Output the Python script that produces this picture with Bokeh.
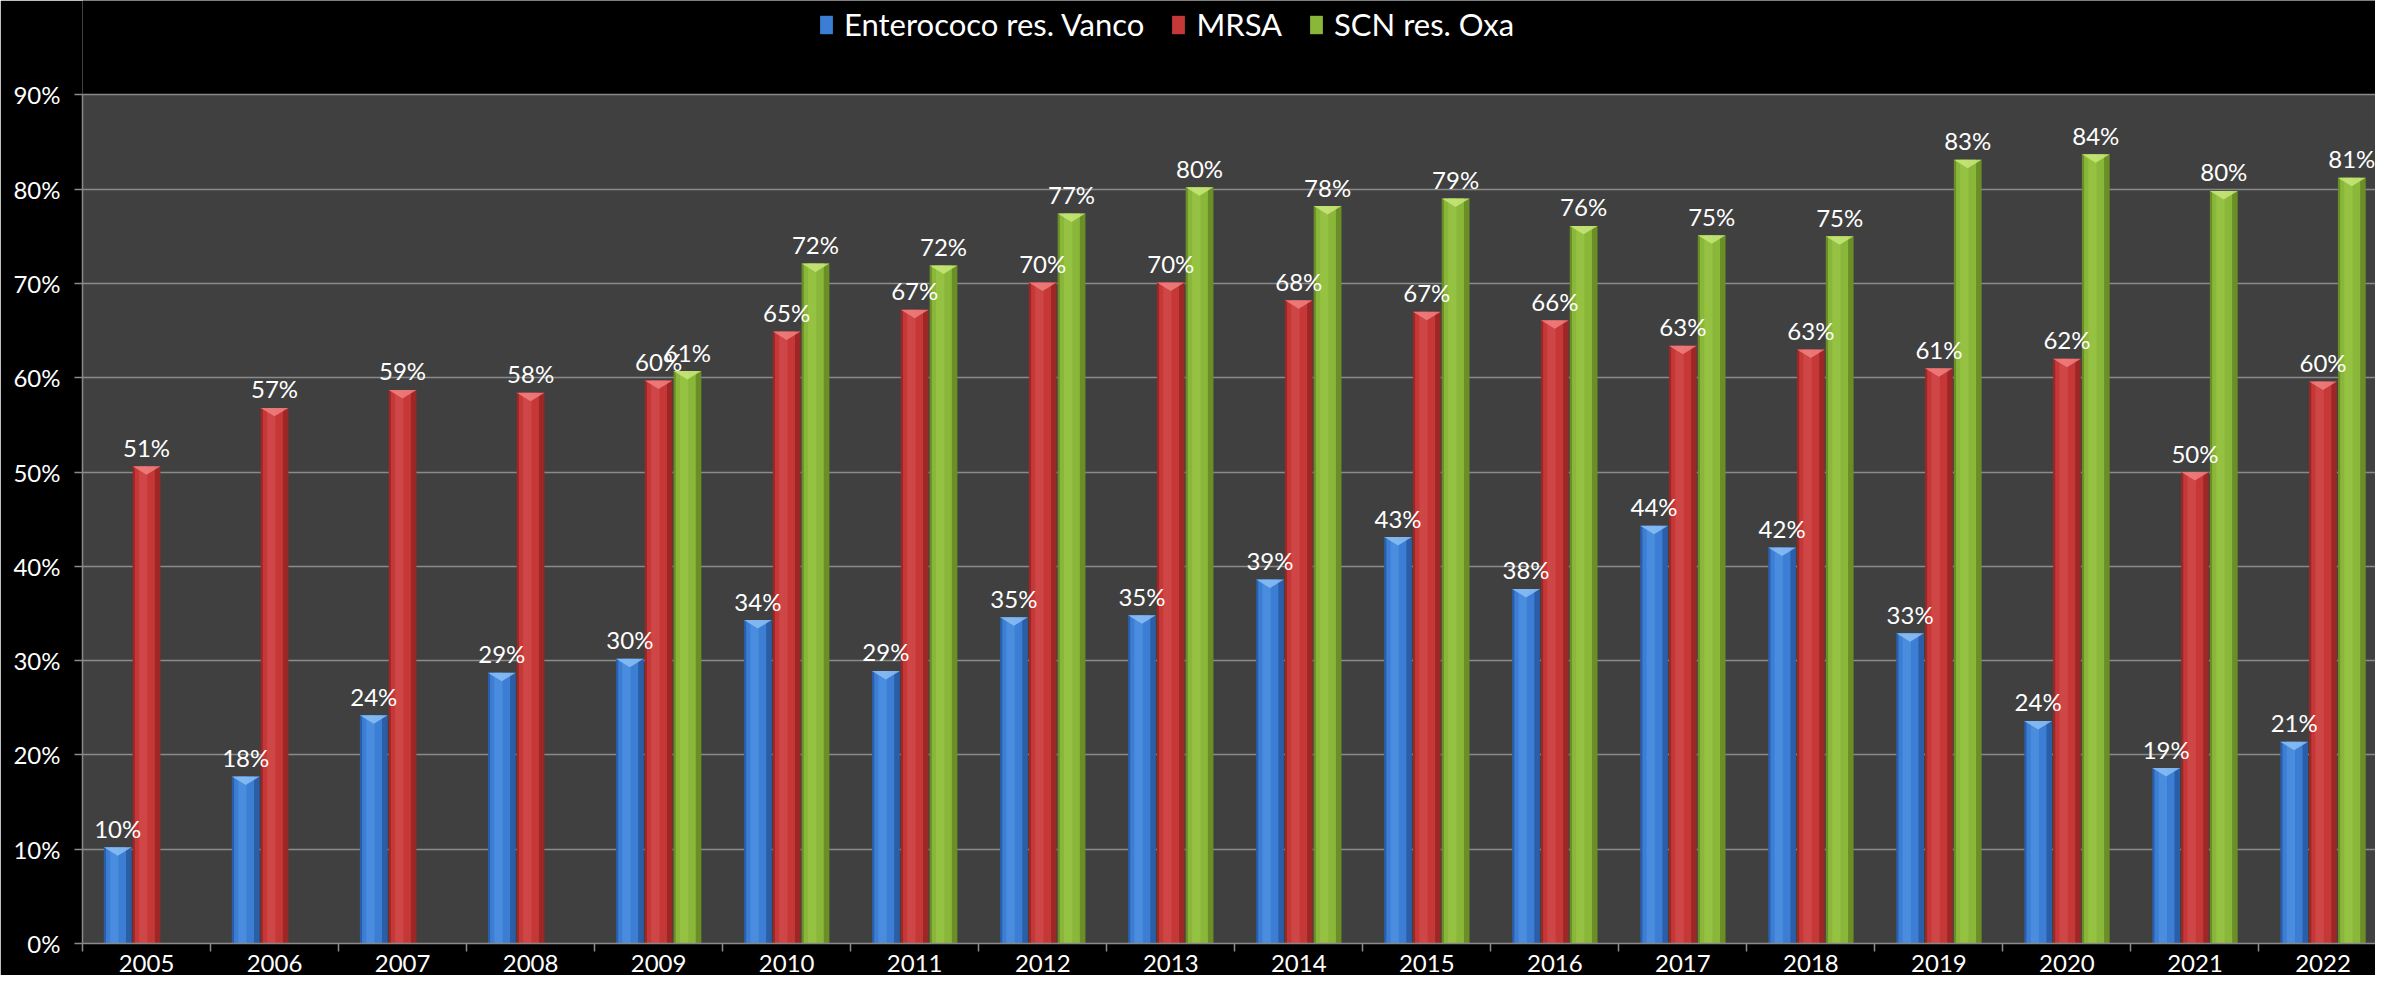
from bokeh.plotting import figure
from bokeh.models import (ColumnDataSource, Range1d, FixedTicker, PrintfTickFormatter,
                          Legend, LegendItem, BoxAnnotation)
from bokeh.core.properties import value
from bokeh.embed import file_html
from bokeh.resources import INLINE

# ---------------- data ----------------
years = ["2005", "2006", "2007", "2008", "2009", "2010", "2011", "2012", "2013",
         "2014", "2015", "2016", "2017", "2018", "2019", "2020", "2021", "2022"]
enterococo = [10.2, 17.7, 24.2, 28.7, 30.2, 34.3, 28.9, 34.6, 34.8,
              38.6, 43.1, 37.6, 44.3, 42.0, 32.9, 23.6, 18.6, 21.4]
mrsa = [50.6, 56.8, 58.7, 58.4, 59.7, 64.9, 67.2, 70.1, 70.1,
        68.2, 67.0, 66.1, 63.4, 63.0, 61.0, 62.0, 50.0, 59.6]
scn = [None, None, None, None, 60.7, 72.1, 71.9, 77.4, 80.2,
       78.2, 79.0, 76.1, 75.1, 75.0, 83.1, 83.7, 79.8, 81.2]
series_names = ["Enterococo res. Vanco", "MRSA", "SCN res. Oxa"]
y_ticks = [0, 10, 20, 30, 40, 50, 60, 70, 80, 90]
y_max = 90

# ---------------- style ----------------
FONT = "Lato"
BAR_W = 0.217
OFFSETS = [-0.225, 0.0, 0.225]
BEVEL = 0.9  # depth of the top bevel in y units
palettes = [
    dict(dark="#2a5ea6", mid="#3b7ed4", light="#5596e2", bevel="#8cc0f4"),
    dict(dark="#9c2727", mid="#c63837", light="#d65050", bevel="#f08080"),
    dict(dark="#6a8f27", mid="#8ab63a", light="#9dc94a", bevel="#c8e87a"),
]

# frame covers the legend strip too; the grey plot area is 0..90 only
p = figure(frame_width=2293, frame_height=943, output_backend="svg",
           toolbar_location=None,
           x_range=Range1d(-0.5, 17.41), y_range=Range1d(0, 100.0),
           min_border_left=82, min_border_right=0, min_border_top=0,
           min_border_bottom=32)
p.background_fill_color = "#000000"
p.border_fill_color = "#000000"
p.outline_line_color = None
p.outline_line_alpha = 0
p.outline_line_width = 0
p.add_layout(BoxAnnotation(bottom=0, top=y_max, fill_color="#404040", fill_alpha=1,
                           line_color=None, line_alpha=0, level="image"))

p.xgrid.grid_line_color = None
p.ygrid.grid_line_color = "#8a8a8a"
p.ygrid.grid_line_width = 1.5
p.ygrid.ticker = FixedTicker(ticks=y_ticks)

ya = p.yaxis[0]
ya.ticker = FixedTicker(ticks=y_ticks)
ya.bounds = (0, y_max)
ya.formatter = PrintfTickFormatter(format="%d%%")
ya.axis_line_color = "#8a8a8a"
ya.axis_line_width = 1.5
ya.major_tick_line_color = "#8a8a8a"
ya.major_tick_line_width = 1.5
ya.major_tick_out = 8
ya.major_tick_in = 0
ya.minor_tick_line_color = None
ya.major_label_standoff = 14
ya.major_label_text_color = "#ffffff"
ya.major_label_text_font = FONT
ya.major_label_text_font_size = "24px"

xa = p.xaxis[0]
xa.ticker = FixedTicker(ticks=list(range(len(years))),
                        minor_ticks=[i - 0.5 for i in range(len(years) + 1)])
xa.major_label_overrides = {i: y for i, y in enumerate(years)}
xa.axis_line_color = "#8a8a8a"
xa.axis_line_width = 1.5
xa.major_tick_line_color = None
xa.major_tick_out = 0
xa.major_tick_in = 0
xa.minor_tick_line_color = "#8a8a8a"
xa.minor_tick_line_width = 1.5
xa.minor_tick_out = 8
xa.minor_tick_in = 0
xa.major_label_standoff = 3
xa.major_label_text_color = "#ffffff"
xa.major_label_text_font = FONT
xa.major_label_text_font_size = "24px"

legend_items = []
label_sources = []
for s_idx, (vals, name) in enumerate(zip([enterococo, mrsa, scn], series_names)):
    pal = palettes[s_idx]
    xs, tops, labels = [], [], []
    for i, v in enumerate(vals):
        if v is None:
            continue
        xs.append(i + OFFSETS[s_idx])
        tops.append(v)
        labels.append(f"{v:.0f}%")
    src = ColumnDataSource(dict(
        x=xs, top=tops, label=labels,
        x_left=[x - BAR_W * 0.06 for x in xs],
        x_hi=[x - BAR_W * 0.12 for x in xs],
        bx=[[x - BAR_W / 2, x + BAR_W / 2, x] for x in xs],
        by=[[t, t, t - BEVEL] for t in tops],
    ))
    p.vbar(x="x", top="top", bottom=0, width=BAR_W, source=src,
           fill_color=pal["dark"], line_color=None)
    r = p.vbar(x="x_left", top="top", bottom=0, width=BAR_W * 0.72, source=src,
               fill_color=pal["mid"], line_color=None)
    p.vbar(x="x_hi", top="top", bottom=0, width=BAR_W * 0.3, source=src,
           fill_color=pal["light"], line_color=None, fill_alpha=0.6)
    p.patches(xs="bx", ys="by", source=src, fill_color=pal["bevel"],
              line_color=None, fill_alpha=0.85)
    label_sources.append(src)
    legend_items.append(LegendItem(label=name, renderers=[r]))

for src in label_sources:
    p.text(x="x", y="top", text="label", source=src, y_offset=-19,
           text_align="center", text_baseline="alphabetic",
           text_color="#ffffff", text_font=value(FONT), text_font_size="24px")

legend = Legend(items=legend_items, orientation="horizontal",
                location=(736, 900), padding=0, margin=0, spacing=26,
                label_standoff=10, glyph_width=16, glyph_height=23,
                border_line_color=None, background_fill_alpha=0,
                label_text_color="#ffffff", label_text_font=FONT,
                label_text_font_size="31px")
p.add_layout(legend, "center")

open("out.html", "w").write(file_html(p, INLINE))
